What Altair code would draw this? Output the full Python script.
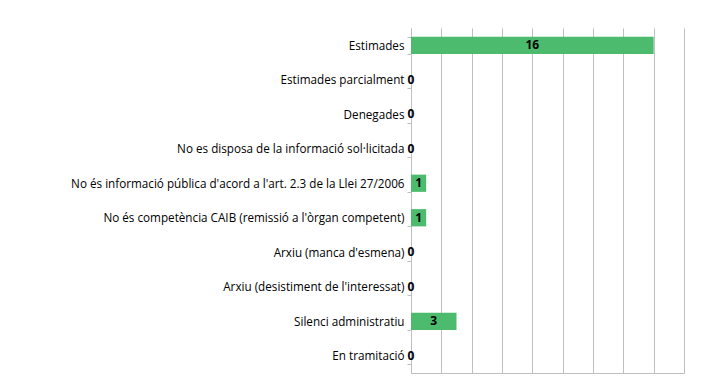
import altair as alt
import pandas as pd

categories = [
    "Estimades",
    "Estimades parcialment",
    "Denegades",
    "No es disposa de la informació sol·licitada",
    "No és informació pública d'acord a l'art. 2.3 de la Llei 27/2006",
    "No és competència CAIB (remissió a l'òrgan competent)",
    "Arxiu (manca d'esmena)",
    "Arxiu (desistiment de l'interessat)",
    "Silenci administratiu",
    "En tramitació",
]
values = [16, 0, 0, 0, 1, 1, 0, 0, 3, 0]
grid_ticks = [0, 2, 4, 6, 8, 10, 12, 14, 16, 18]

df = pd.DataFrame({"cat": categories, "val": values})
df["half"] = df["val"] / 2

FONT = "Open Sans"

y_axis = alt.Axis(
    tickBand="extent",
    tickSize=4,
    labelPadding=3,
    labelFont=FONT,
    labelFontSize=11.7,
    labelColor="#000000",
    labelLimit=400,
    domainColor="#bfbfbf",
    tickColor="#bfbfbf",
    grid=False,
)
x_axis = alt.Axis(
    values=grid_ticks,
    labels=False,
    ticks=False,
    domainColor="#bfbfbf",
    gridColor="#bfbfbf",
    grid=True,
)
y_scale = alt.Scale(paddingInner=0.5, paddingOuter=0.25)
x_scale = alt.Scale(domain=[0, 18], nice=False)

bars = alt.Chart(df).mark_bar(color="#4DBB6D").encode(
    x=alt.X("val:Q", scale=x_scale, title=None, axis=x_axis),
    y=alt.Y("cat:N", sort=categories, title=None, scale=y_scale, axis=y_axis),
)

text = alt.Chart(df).mark_text(
    font=FONT, fontSize=12, fontWeight="bold", color="#000000", align="center", baseline="middle"
).encode(
    x=alt.X("half:Q", scale=x_scale, title=None, axis=x_axis),
    y=alt.Y("cat:N", sort=categories, title=None, scale=y_scale, axis=y_axis),
    text="val:Q",
)

chart = (
    alt.layer(bars, text)
    .properties(
        width=273,
        height=345,
        autosize=alt.AutoSizeParams(type="none"),
        padding={"left": 403, "top": 20, "right": 10, "bottom": 1},
    )
    .configure_view(stroke=None)
)

chart.save("out.html", embed_options={"renderer": "svg", "actions": False})
